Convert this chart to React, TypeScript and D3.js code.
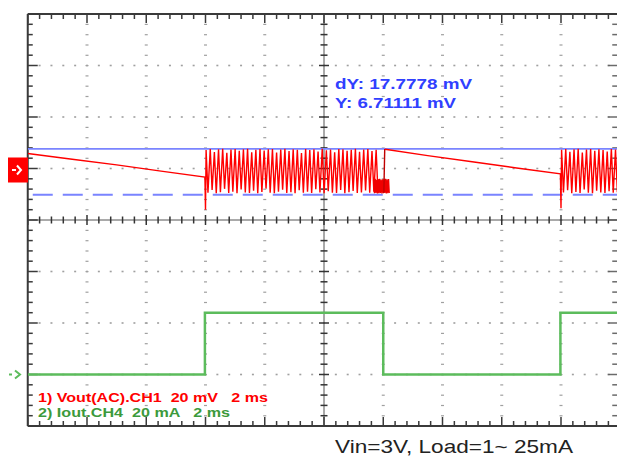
import React from "react";
import * as d3 from "d3";

// ---- data (oscilloscope capture) ----
const timeDomain = [0, 20]; // ms, 2 ms/div, 10 divisions
const divDomain = [-4, 4]; // vertical divisions
const ch1mVPerDiv = 20;
const ch4mAPerDiv = 20;
const ch1GroundDiv = 1;
const ch4GroundDiv = -3.05;

// CH1 cursor levels (mV)
const cursorTop = 7.6;
const cursorDY = 17.7778;
const cursorLabels = ["dY: 17.7778 mV", "Y: 6.71111 mV"];

// CH1 decay segments [t, mV]
const decay1T = [0, 1.5, 3.0, 4.5, 5.98];
const decay1V = [5.8, 3.6, 1.4, -1.0, -3.3];
const decay2T = [12.06, 13.5, 15.0, 16.5, 17.98];
const decay2V = [7.5, 5.0, 2.6, 0.2, -2.1];

// CH1 ripple burst 1 (load high)
const burst1Start = 6.02;
const burst1Period = 0.14;
const burst1High = [7.2, 7.6, 6.4, 7.5, 7.7, 6.1, 7.4, 7.6, 6.9, 7.5, 7.7, 6.3, 7.3, 7.6, 7.0, 7.5, 7.6, 6.2, 7.4, 7.7, 6.8, 7.5, 7.3, 6.0, 7.6, 7.2, 7.5, 6.6, 7.7, 7.1, 7.4, 6.3, 7.6, 7.5, 6.9, 7.3, 7.7, 6.5, 7.4, 7.6, 6.8, 7.3];
const burst1Low = [-9.4, -8.3, -9.6, -9.2, -7.9, -9.5, -9.0, -9.6, -8.1, -9.3, -9.5, -8.6, -9.6, -9.1, -7.8, -9.4, -9.6, -9.0, -8.2, -9.5, -9.2, -9.6, -8.4, -9.4, -9.0, -9.5, -8.0, -9.3, -9.6, -8.8, -9.4, -9.5, -8.3, -9.6, -9.2, -8.7, -9.5, -9.3, -8.5, -9.4, -9.0, -9.5];
const burst1Dip = -16.0;

// dense block at end of burst 1
const blockStart = 11.68;
const blockPeriod = 0.05;
const blockHigh = [-4.2, -4.0, -4.4, -4.1, -4.0, -4.3, -4.2, -4.1, -4.0, -4.2, -4.1];
const blockLow = [-9.6, -9.5, -9.7, -9.6, -9.5, -9.7, -9.6, -9.5, -9.7, -9.6, -9.5];

// CH1 ripple burst 2
const burst2Start = 18.02;
const burst2Period = 0.14;
const burst2High = [7.3, 7.6, 6.5, 7.5, 7.7, 6.2, 7.4, 7.6, 6.9, 7.5, 7.2, 6.6, 7.6, 7.4];
const burst2Low = [-9.3, -8.4, -9.6, -9.1, -9.5, -8.1, -9.4, -9.6, -8.6, -9.3, -9.5, -8.8, -9.4, -9.2];
const burst2Dip = -15.4;

// CH4 load current (mA)
const ch4T = [0, 5.98, 5.98, 12.0, 12.0, 17.98, 17.98, 20];
const ch4I = [1, 1, 25, 25, 1, 1, 25, 25];

const legend1 = "1) Vout(AC).CH1  20 mV   2 ms";
const legend2 = "2) Iout.CH4  20 mA   2 ms";
const caption = "Vin=3V, Load=1~ 25mA";

// ---- colours ----
const RED = "#ff0000";
const GREEN = "#5cbc5c";
const CURSOR = "#7a84ff";
const CURSOR_TEXT = "#3040ff";
const GRID = "#a0a0a0";
const FRAME = "#3a3a3a";

export default function App() {
  const x = d3.scaleLinear().domain(timeDomain).range([27.75, 620.25]);
  const yDiv = d3.scaleLinear().domain(divDomain).range([426, 14]);
  const y1 = (v: number) => yDiv(ch1GroundDiv + v / ch1mVPerDiv);
  const y4 = (i: number) => yDiv(ch4GroundDiv + i / ch4mAPerDiv);

  const line = d3
    .line<[number, number]>()
    .x((d) => x(d[0]))
    .y((d) => d[1]);

  const zig = (start: number, period: number, hi: number[], lo: number[]) => {
    const pts: [number, number][] = [];
    hi.forEach((h, i) => {
      pts.push([start + i * period, y1(h)]);
      pts.push([start + i * period + period * 0.45, y1(lo[i])]);
    });
    return pts;
  };

  const ch1a: [number, number][] = decay1T.map((t, i) => [t, y1(decay1V[i])]);
  ch1a.push([decay1T[decay1T.length - 1] + 0.02, y1(burst1Dip)]);
  const ch1aFull = ch1a.concat(zig(burst1Start, burst1Period, burst1High, burst1Low));

  const blockPts = zig(blockStart, blockPeriod, blockHigh, blockLow);
  const ch1b: [number, number][] = [
    [12.02, y1(-9.4)],
    [12.05, y1(cursorTop)],
  ];
  const ch1c: [number, number][] = decay2T.map((t, i) => [t, y1(decay2V[i])]);
  ch1c.push([decay2T[decay2T.length - 1] + 0.02, y1(burst2Dip)]);
  const ch1cFull = ch1c.concat(zig(burst2Start, burst2Period, burst2High, burst2Low));

  const ch4Pts: [number, number][] = ch4T.map((t, i) => [t, y4(ch4I[i])]);

  const minorT = d3.range(0, 20.001, 0.4);
  const minorD = d3.range(-4, 4.001, 0.2);
  const gridT = [2, 4, 6, 8, 12, 14, 16, 18];
  const gridD = [-3, -2, -1, 1, 2, 3];
  const isMajorT = (t: number) => Math.abs(t / 2 - Math.round(t / 2)) < 1e-6;
  const isMajorD = (d: number) => Math.abs(d - Math.round(d)) < 1e-6;

  const left = x(0);
  const right = x(20);
  const top = yDiv(4);
  const bottom = yDiv(-4);
  const cx = x(10);
  const cy = yDiv(0);

  return (
    <svg
      width={617}
      height={458}
      style={{ position: "absolute", left: 0, top: 0, background: "#fff" }}
      fontFamily="'Liberation Sans', Arial, sans-serif"
    >
      <defs>
        <clipPath id="plot">
          <rect x={left} y={top} width={right - left} height={bottom - top} />
        </clipPath>
      </defs>
      <rect width={617} height={458} fill="#fff" />

      {gridT.map((t) =>
        minorD.slice(1, -1).map((d) => (
          <rect key={`v${t}_${d}`} x={x(t) - 1.5} y={yDiv(d) - 0.5} width={3} height={1.2} fill={GRID} />
        ))
      )}
      {gridD.map((d) =>
        minorT.slice(1, -1).map((t) => (
          <rect key={`h${d}_${t}`} x={x(t) - 1} y={yDiv(d) - 0.8} width={2} height={1.6} fill={GRID} />
        ))
      )}
      <line x1={left} x2={right} y1={cy} y2={cy} stroke="#555" strokeWidth={1} />
      <line x1={cx} x2={cx} y1={top} y2={bottom} stroke="#555" strokeWidth={1} />
      {minorT.map((t) => (
        <line key={`ct${t}`} x1={x(t)} x2={x(t)} y1={cy - (isMajorT(t) ? 5 : 3.5)} y2={cy + (isMajorT(t) ? 5 : 3.5)} stroke="#333" strokeWidth={1.5} />
      ))}
      {minorD.map((d) => (
        <line key={`cd${d}`} x1={cx - (isMajorD(d) ? 5 : 3.5)} x2={cx + (isMajorD(d) ? 5 : 3.5)} y1={yDiv(d)} y2={yDiv(d)} stroke="#333" strokeWidth={1.5} />
      ))}

      <line x1={left} x2={617} y1={top} y2={top} stroke={FRAME} strokeWidth={2} />
      <line x1={left} x2={617} y1={bottom} y2={bottom} stroke={FRAME} strokeWidth={2} />
      <line x1={left} x2={left} y1={top} y2={bottom} stroke={FRAME} strokeWidth={2} />
      {minorT.map((t) => (
        <g key={`bt${t}`}>
          <line x1={x(t)} x2={x(t)} y1={top} y2={top + (isMajorT(t) ? 9 : 5)} stroke={FRAME} strokeWidth={1.5} />
          <line x1={x(t)} x2={x(t)} y1={bottom} y2={bottom - (isMajorT(t) ? 9 : 5)} stroke={FRAME} strokeWidth={1.5} />
        </g>
      ))}
      {minorD.map((d) => (
        <g key={`bd${d}`}>
          <line x1={left} x2={left + (isMajorD(d) ? 10 : 5)} y1={yDiv(d)} y2={yDiv(d)} stroke={FRAME} strokeWidth={1.5} />
          <line x1={right} x2={right - (isMajorD(d) ? 12 : 8)} y1={yDiv(d)} y2={yDiv(d)} stroke={FRAME} strokeWidth={1.5} opacity={0.75} />
        </g>
      ))}

      <g clipPath="url(#plot)">
        <line x1={left} x2={right} y1={y1(cursorTop)} y2={y1(cursorTop)} stroke={CURSOR} strokeWidth={1.8} />
        <line
          x1={left}
          x2={right}
          y1={y1(cursorTop - cursorDY)}
          y2={y1(cursorTop - cursorDY)}
          stroke={CURSOR}
          strokeWidth={2}
          strokeDasharray="20 10"
          strokeDashoffset={-5}
        />
        <path d={line(ch4Pts) ?? ""} fill="none" stroke={GREEN} strokeWidth={2.5} />
        <path d={line(ch1aFull) ?? ""} fill="none" stroke={RED} strokeWidth={1.4} />
        <path d={line(blockPts) ?? ""} fill="none" stroke="#f00000" strokeWidth={1.3} />
        <path d={line(ch1b) ?? ""} fill="none" stroke="#c00000" strokeWidth={1.4} />
        <path d={line(ch1cFull) ?? ""} fill="none" stroke={RED} strokeWidth={1.4} />
      </g>

      <rect x={8} y={yDiv(ch1GroundDiv) - 11} width={20} height={25} fill={RED} />
      <path
        d={`M12,${yDiv(ch1GroundDiv) + 1.5} h4 M17,${yDiv(ch1GroundDiv) - 3} l4,4.5 l-4,4.5`}
        fill="none"
        stroke="#fff"
        strokeWidth={2}
      />
      <path d={`M9,${y4(1)} h3 M15,${y4(1) - 4} l5,4 l-5,4`} fill="none" stroke={GREEN} strokeWidth={2} />

      <text x={335} y={89} fontSize={14} fontWeight="bold" fill={CURSOR_TEXT} textLength={137} lengthAdjust="spacingAndGlyphs">
        {cursorLabels[0]}
      </text>
      <text x={335} y={108} fontSize={14} fontWeight="bold" fill={CURSOR_TEXT} textLength={121} lengthAdjust="spacingAndGlyphs">
        {cursorLabels[1]}
      </text>

      <text x={38} y={402} fontSize={12} fontWeight="bold" fill={RED} style={{ whiteSpace: "pre" }} textLength={230} lengthAdjust="spacingAndGlyphs">
        {legend1}
      </text>
      <text x={38} y={417} fontSize={12} fontWeight="bold" fill="#3c9a3c" style={{ whiteSpace: "pre" }} textLength={192} lengthAdjust="spacingAndGlyphs">
        {legend2}
      </text>

      <text x={335} y={453} fontSize={19} fill="#222" textLength={238} lengthAdjust="spacingAndGlyphs">
        {caption}
      </text>
    </svg>
  );
}
